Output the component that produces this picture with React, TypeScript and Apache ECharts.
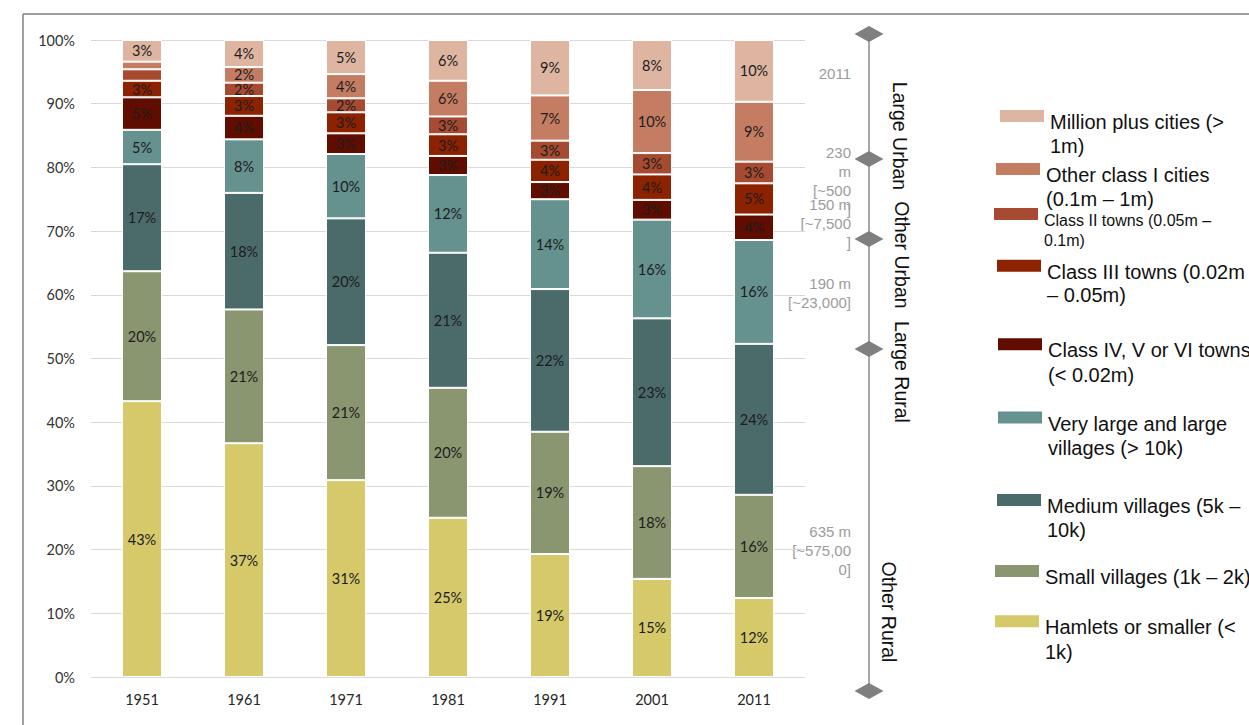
import React, { useEffect, useRef } from "react";
import * as echarts from "echarts";

// ---- data (percent of population) ----
const years = ["1951", "1961", "1971", "1981", "1991", "2001", "2011"];
const hamlets = [43.3, 36.7, 30.9, 25.0, 19.3, 15.4, 12.4];
const smallVillages = [20.4, 21.0, 21.2, 20.4, 19.2, 17.7, 16.2];
const mediumVillages = [16.8, 18.3, 19.9, 21.2, 22.4, 23.2, 23.7];
const largeVillages = [5.4, 8.4, 10.1, 12.2, 14.1, 15.5, 16.3];
const classIVtoVI = [5.1, 3.7, 3.25, 3.0, 2.7, 3.1, 4.0];
const classIII = [2.6, 3.1, 3.3, 3.4, 3.5, 4.0, 4.9];
const classII = [1.8, 2.1, 2.2, 2.8, 3.0, 3.35, 3.4];
const otherClassI = [1.2, 2.45, 3.8, 5.6, 7.1, 9.9, 9.4];
const millionPlus = [3.4, 4.25, 5.35, 6.4, 8.7, 7.85, 9.7];

const seriesNames = [
  "Hamlets or smaller (< 1k)",
  "Small villages (1k – 2k)",
  "Medium villages (5k – 10k)",
  "Very large and large villages (> 10k)",
  "Class IV, V or VI towns (< 0.02m)",
  "Class III towns (0.02m – 0.05m)",
  "Class II towns (0.05m – 0.1m)",
  "Other class I cities (0.1m – 1m)",
  "Million plus cities (> 1m)",
];
const seriesData = [
  hamlets,
  smallVillages,
  mediumVillages,
  largeVillages,
  classIVtoVI,
  classIII,
  classII,
  otherClassI,
  millionPlus,
];
const legendTexts = [
  "Hamlets or smaller (<\n1k)",
  "Small villages (1k – 2k)",
  "Medium villages (5k –\n10k)",
  "Very large and large\nvillages (> 10k)",
  "Class IV, V or VI towns\n(< 0.02m)",
  "Class III towns (0.02m\n– 0.05m)",
  "Class II towns (0.05m –\n0.1m)",
  "Other class I cities\n(0.1m – 1m)",
  "Million plus cities (>\n1m)",
];

// band annotations on the right
const bandLabels = ["Large Urban", "Other Urban", "Large Rural", "Other Rural"];
const bandNotes = [
  "2011",
  "230\nm\n[~500\n]",
  "150 m\n[~7,500\n]",
  "190 m\n[~23,000]",
  "635 m\n[~575,00\n0]",
];

// ---- styles / layout ----
const colors = [
  "#D6C96A",
  "#8A9670",
  "#4A6B6A",
  "#65918E",
  "#600D00",
  "#8C2200",
  "#A64B31",
  "#C47D62",
  "#DEB5A0",
];
// legend placement: [iconLeft, iconCenterY, fontSize, lineHeight]
const legendPos: number[][] = [
  [993, 621, 20, 25],
  [993, 571, 20, 24],
  [995, 500, 20, 24],
  [996, 417.5, 20, 24],
  [996, 344, 20, 25],
  [995, 266, 20, 23],
  [992, 215, 16, 20],
  [994, 169, 20, 24],
  [998, 116, 20, 24],
];
const noteTops = [73, 152, 204, 283, 531];
const bandCenters: number[][] = [
  [900, 136],
  [902, 255],
  [902, 372],
  [889, 612],
];
const diamondYs = [34, 159, 239, 349, 691];

export default function App() {
  const ref = useRef<HTMLDivElement>(null);
  useEffect(() => {
    document.body.style.margin = "0";
    if (!ref.current) return;
    const chart = echarts.init(ref.current, undefined, { renderer: "svg" });

    const legends = seriesNames.map((name, i) => {
      const [left, cy, fs, lh] = legendPos[i];
      const lines = legendTexts[i].split("\n");
      const n = lines.length;
      const d = 6;
      const padLH = 2 * d + (n - 1) * lh;
      const H = n * lh + padLH;
      const iconOffset = 7 + (H - 12) / 4;
      return {
        show: true,
        left,
        top: cy - iconOffset,
        padding: 0,
        orient: "vertical",
        selectedMode: false,
        icon: "rect",
        itemWidth: 46,
        itemHeight: 14,
        data: [name],
        formatter: () => "{p| }\n" + lines.map((l) => "{t|" + l + "}").join("\n"),
        textStyle: {
          rich: {
            p: { fontSize: 2, lineHeight: padLH },
            t: {
              fontFamily: "Liberation Sans",
              fontSize: fs,
              lineHeight: lh,
              color: "#111",
            },
          },
        },
      };
    });

    const series = seriesNames.map((name, i) => ({
      name,
      type: "bar",
      stack: "total",
      barWidth: 40,
      data: seriesData[i],
      itemStyle: { color: colors[i], borderColor: "#ffffff", borderWidth: 1 },
      label: {
        show: true,
        position: "inside",
        fontFamily: "Lato",
        fontSize: 14.5,
        color: "#1c1c1c",
        formatter: (p: any) => (p.value >= 2 ? Math.round(p.value) + "%" : ""),
      },
    }));

    const graphics: any[] = [
      { type: "line", shape: { x1: 23, y1: 14, x2: 23, y2: 725 }, style: { stroke: "#808080", lineWidth: 1.5 } },
      { type: "line", shape: { x1: 23, y1: 14, x2: 1249, y2: 14 }, style: { stroke: "#808080", lineWidth: 1.5 } },
      { type: "line", shape: { x1: 869, y1: 34, x2: 869, y2: 691 }, style: { stroke: "#a6a6a6", lineWidth: 2 } },
    ];
    diamondYs.forEach((y) => {
      graphics.push({
        type: "polygon",
        shape: { points: [[854.5, y], [869, y - 8], [883.5, y], [869, y + 8]] },
        style: { fill: "#7f7f7f" },
      });
    });
    bandNotes.forEach((t, i) => {
      graphics.push({
        type: "text",
        x: 851,
        y: noteTops[i] - 9.5,
        style: {
          text: t,
          fontFamily: "Liberation Sans",
          fontSize: 15,
          lineHeight: 19,
          fill: "#9c9c9c",
          align: "right",
          verticalAlign: "top",
        },
      });
    });
    bandLabels.forEach((t, i) => {
      graphics.push({
        type: "text",
        x: bandCenters[i][0],
        y: bandCenters[i][1],
        rotation: -Math.PI / 2,
        style: {
          text: t,
          fontFamily: "Liberation Sans",
          fontSize: 19.5,
          fill: "#111",
          align: "center",
          verticalAlign: "middle",
        },
      });
    });

    chart.setOption({
      animation: false,
      backgroundColor: "#ffffff",
      grid: { left: 91, right: 444, top: 40, bottom: 48 },
      legend: legends,
      xAxis: {
        type: "category",
        data: years,
        axisLine: { show: false },
        axisTick: { show: false },
        axisLabel: { fontFamily: "Lato", fontSize: 14.5, color: "#262626", margin: 15 },
      },
      yAxis: {
        type: "value",
        min: 0,
        max: 100,
        interval: 10,
        axisLine: { show: false },
        axisTick: { show: false },
        axisLabel: {
          fontFamily: "Lato",
          fontSize: 14.5,
          color: "#333",
          margin: 16,
          formatter: (v: number) => v + "%",
        },
        splitLine: { lineStyle: { color: "#d9d9d9", width: 1 } },
      },
      series,
      graphic: { elements: graphics },
    });
    return () => chart.dispose();
  }, []);
  return (
    <div
      ref={ref}
      style={{ position: "absolute", left: 0, top: 0, width: 1249, height: 725 }}
    />
  );
}
